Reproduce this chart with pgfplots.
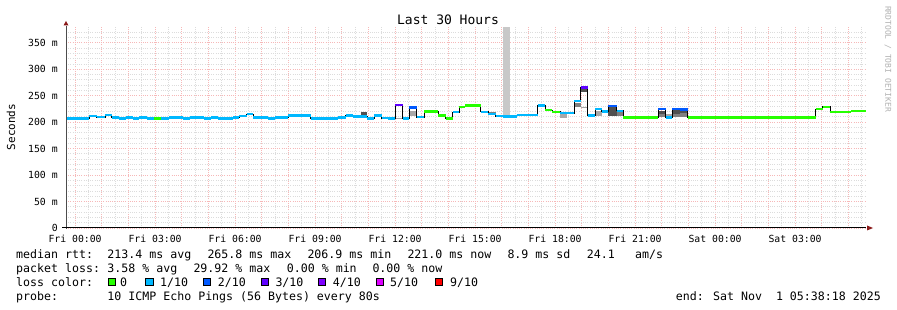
\documentclass[border=0pt]{standalone}
\usepackage{fontspec}
\setmainfont{DejaVu Sans Mono}
\usepackage{pgfplots}
\pgfplotsset{compat=1.18}
\usetikzlibrary{arrows.meta}
\definecolor{l0}{HTML}{26FF00}
\definecolor{l1}{HTML}{00B8FF}
\definecolor{l2}{HTML}{0059FF}
\definecolor{l3}{HTML}{5E00FF}
\definecolor{l4}{HTML}{7E00FF}
\definecolor{l5}{HTML}{DD00FF}
\definecolor{l9}{HTML}{FF0000}
\definecolor{unk}{HTML}{C8C8C8}
\definecolor{smA}{HTML}{505050}
\definecolor{smB}{HTML}{808080}
\definecolor{smC}{HTML}{A8A8A8}
\definecolor{arrowred}{HTML}{8B1A1A}
\definecolor{mgrid}{HTML}{F6B8B8}
\definecolor{ngrid}{HTML}{DCDCDC}
\newcommand{\lfont}{\fontsize{11.6bp}{14bp}\selectfont}
\begin{document}
\begin{tikzpicture}
\path[use as bounding box, fill=white] (0,0) rectangle (897bp,310bp);
\begin{axis}[
  name=ax,
  at={(66bp,82bp)}, anchor=south west,
  scale only axis, width=800bp, height=201bp,
  xmin=-0.34, xmax=29.66, ymin=0, ymax=380,
  axis lines=left, axis line style={draw=none}, tick style={draw=none},
  xtick={0,1,...,29},
  xticklabels={Fri 00:00,,,Fri 03:00,,,Fri 06:00,,,Fri 09:00,,,Fri 12:00,,,Fri 15:00,,,Fri 18:00,,,Fri 21:00,,,Sat 00:00,,,Sat 03:00,,},
  minor xtick={0.5,1.5,...,29.5},
  ytick={0,50,...,350},
  yticklabels={0,50 m,100 m,150 m,200 m,250 m,300 m,350 m},
  minor ytick={10,20,30,40,60,70,80,90,110,120,130,140,160,170,180,190,210,220,230,240,260,270,280,290,310,320,330,340,360,370},
  grid=both,
  major grid style={draw=mgrid, line width=0.9bp, dash pattern=on 1bp off 1.2bp},
  minor grid style={draw=ngrid, line width=0.9bp, dash pattern=on 1bp off 1.2bp},
  tick label style={font=\fontsize{9.8bp}{11bp}\selectfont, inner sep=0pt},
  xticklabel shift=5bp, yticklabel shift=6bp,
  unbounded coords=jump,
]
% unknown data
\addplot[fill=unk, draw=none] coordinates {(16.04,211)(16.31,211)(16.31,380)(16.04,380)} --cycle;
% smoke
\addplot[fill=smA, draw=none] coordinates {(10.7125,212)(10.9625,212)(10.9625,219.5)(10.7125,219.5)} --cycle;
\addplot[fill=smC, draw=none] coordinates {(12.0,206.2)(12.2875,206.2)(12.2875,208)(12.0,208)} --cycle;
\addplot[fill=smC, draw=none] coordinates {(12.5375,212.5)(12.8125,212.5)(12.8125,221)(12.5375,221)} --cycle;
\addplot[fill=smB, draw=none] coordinates {(15.5,216)(15.775,216)(15.775,219.5)(15.5,219.5)} --cycle;
\addplot[fill=smC, draw=none] coordinates {(18.19,208.7)(18.44,208.7)(18.44,215.7)(18.19,215.7)} --cycle;
\addplot[fill=smB, draw=none] coordinates {(18.71,228)(18.96,228)(18.96,237)(18.71,237)} --cycle;
\addplot[fill=smA, draw=none] coordinates {(18.96,257)(19.225,257)(19.225,264)(18.96,264)} --cycle;
\addplot[fill=smC, draw=none] coordinates {(18.96,227.5)(19.225,227.5)(19.225,229)(18.96,229)} --cycle;
\addplot[fill=smC, draw=none] coordinates {(19.5,212.5)(19.75,212.5)(19.75,222)(19.5,222)} --cycle;
\addplot[fill=smA, draw=none] coordinates {(20.0,211)(20.31,211)(20.31,229)(20.0,229)} --cycle;
\addplot[fill=smB, draw=none] coordinates {(20.31,211)(20.56,211)(20.56,219)(20.31,219)} --cycle;
\addplot[fill=smB, draw=none] coordinates {(21.875,209)(22.15,209)(22.15,215)(21.875,215)} --cycle;
\addplot[fill=smA, draw=none] coordinates {(21.875,215)(22.15,215)(22.15,222)(21.875,222)} --cycle;
\addplot[fill=smC, draw=none] coordinates {(22.15,210)(22.4,210)(22.4,215)(22.15,215)} --cycle;
\addplot[fill=smB, draw=none] coordinates {(22.4,209)(22.69,209)(22.69,216)(22.4,216)} --cycle;
\addplot[fill=smA, draw=none] coordinates {(22.4,216)(22.69,216)(22.69,223)(22.4,223)} --cycle;
\addplot[fill=smB, draw=none] coordinates {(22.69,209)(22.975,209)(22.975,217)(22.69,217)} --cycle;
\addplot[fill=smA, draw=none] coordinates {(22.69,217)(22.975,217)(22.975,222.5)(22.69,222.5)} --cycle;
% median line (black)
\addplot[const plot, black, line width=1bp] coordinates {
(-0.34,206.8)(0.5375,211.3)(0.8125,209.4)(1.125,213.8)(1.375,208.7)(1.65,206.8)(1.9,208.7)(2.1625,206.8)(2.4125,208.7)(2.6875,206.8)(3.525,208.7)(4.0375,206.8)(4.3125,208.7)(4.8375,206.8)(5.0875,208.7)(5.3625,206.8)(5.9375,208.7)(6.1625,211.9)(6.4375,215)(6.6875,208.7)(7.25,206.8)(7.5,208.7)(8.0,212.5)(8.8375,206.8)(9.875,208.7)(10.15,212.5)(10.4375,210.6)(10.9625,206.8)(11.225,212.5)(11.5,207.7)(11.75,206.8)(12.0,232.7)(12.2875,206.8)(12.5375,227.6)(12.8125,209.4)(13.1,220)(13.625,212.5)(13.9,207.2)(14.1625,218.8)(14.4125,228.9)(14.625,231.4)(15.21,219.5)(15.5,215)(15.775,211.3)(16.04,210.6)(16.56,213.2)(17.1,213.8)(17.35,231.4)(17.625,222.6)(17.9,219.5)(18.19,217)(18.71,240.3)(18.96,265.8)(19.225,212.5)(19.5,224.5)(19.75,220)(20.0,230.8)(20.31,221.3)(20.56,208.7)(21.875,224.5)(22.15,208.7)(22.4,225.1)(22.69,224)(22.975,208.7)(27.775,224.5)(28.04,228.9)(28.31,218.8)(29.09,221.0)(29.66,221.0)};
% loss 1/10 (cyan)
\addplot[l1, line width=2.3bp] coordinates {
(-0.34,206.8)(0.5375,206.8)(0.5375,nan)
(0.5375,211.3)(0.8125,211.3)(0.8125,nan)
(0.8125,209.4)(1.125,209.4)(1.125,nan)
(1.125,213.8)(1.375,213.8)(1.375,nan)
(1.375,208.7)(1.65,208.7)(1.65,nan)
(1.65,206.8)(1.9,206.8)(1.9,nan)
(1.9,208.7)(2.1625,208.7)(2.1625,nan)
(2.1625,206.8)(2.4125,206.8)(2.4125,nan)
(2.4125,208.7)(2.6875,208.7)(2.6875,nan)
(2.6875,206.8)(2.9625,206.8)(2.9625,nan)
(3.225,206.8)(3.525,206.8)(3.525,nan)
(3.525,208.7)(4.0375,208.7)(4.0375,nan)
(4.0375,206.8)(4.3125,206.8)(4.3125,nan)
(4.3125,208.7)(4.8375,208.7)(4.8375,nan)
(4.8375,206.8)(5.0875,206.8)(5.0875,nan)
(5.0875,208.7)(5.3625,208.7)(5.3625,nan)
(5.3625,206.8)(5.9375,206.8)(5.9375,nan)
(5.9375,208.7)(6.1625,208.7)(6.1625,nan)
(6.1625,211.9)(6.4375,211.9)(6.4375,nan)
(6.4375,215)(6.6875,215)(6.6875,nan)
(6.6875,208.7)(7.25,208.7)(7.25,nan)
(7.25,206.8)(7.5,206.8)(7.5,nan)
(7.5,208.7)(8.0,208.7)(8.0,nan)
(8.0,212.5)(8.8375,212.5)(8.8375,nan)
(8.8375,206.8)(9.875,206.8)(9.875,nan)
(9.875,208.7)(10.15,208.7)(10.15,nan)
(10.15,212.5)(10.4375,212.5)(10.4375,nan)
(10.4375,210.6)(10.9625,210.6)(10.9625,nan)
(10.9625,206.8)(11.225,206.8)(11.225,nan)
(11.225,212.5)(11.5,212.5)(11.5,nan)
(11.5,207.7)(11.75,207.7)(11.75,nan)
(11.75,206.8)(12.0,206.8)(12.0,nan)
(12.2875,206.8)(12.5375,206.8)(12.5375,nan)
(12.8125,209.4)(13.1,209.4)(13.1,nan)
(14.1625,218.8)(14.4125,218.8)(14.4125,nan)
(15.21,219.5)(15.5,219.5)(15.5,nan)
(15.5,215)(15.775,215)(15.775,nan)
(15.775,211.3)(16.04,211.3)(16.04,nan)
(16.04,210.6)(16.56,210.6)(16.56,nan)
(16.56,213.2)(17.1,213.2)(17.1,nan)
(17.1,213.8)(17.35,213.8)(17.35,nan)
(17.35,231.4)(17.625,231.4)(17.625,nan)
(18.19,217)(18.71,217)(18.71,nan)
(18.71,240.3)(18.96,240.3)(18.96,nan)
(19.225,212.5)(19.5,212.5)(19.5,nan)
(19.5,224.5)(19.75,224.5)(19.75,nan)
(19.75,220)(20.0,220)(20.0,nan)
(20.31,221.3)(20.56,221.3)(20.56,nan)
(22.15,208.7)(22.4,208.7)(22.4,nan)};
% loss 0 (green)
\addplot[l0, line width=2.3bp] coordinates {
(2.9625,206.8)(3.225,206.8)(3.225,nan)
(13.1,220)(13.625,220)(13.625,nan)
(13.625,212.5)(13.9,212.5)(13.9,nan)
(13.9,207.2)(14.1625,207.2)(14.1625,nan)
(14.4125,228.9)(14.625,228.9)(14.625,nan)
(14.625,231.4)(15.21,231.4)(15.21,nan)
(17.625,222.6)(17.9,222.6)(17.9,nan)
(17.9,219.5)(18.19,219.5)(18.19,nan)
(20.56,208.7)(21.875,208.7)(21.875,nan)
(22.975,208.7)(27.775,208.7)(27.775,nan)
(27.775,224.5)(28.04,224.5)(28.04,nan)
(28.04,228.9)(28.31,228.9)(28.31,nan)
(28.31,218.8)(29.09,218.8)(29.09,nan)
(29.09,221.0)(29.66,221.0)};
% loss 2/10 (blue)
\addplot[l2, line width=2.3bp] coordinates {
(12.5375,227.6)(12.8125,227.6)(12.8125,nan)
(20.0,230.8)(20.31,230.8)(20.31,nan)
(21.875,224.5)(22.15,224.5)(22.15,nan)
(22.4,225.1)(22.69,225.1)(22.69,nan)
(22.69,224)(22.975,224)};
% loss 3/10 (violet)
\addplot[l3, line width=2.3bp] coordinates {
(12.0,232.7)(12.2875,232.7)(12.2875,nan)
(18.96,265.8)(19.225,265.8)};
\end{axis}
% axes lines and arrows
\draw[black!70, line width=1bp] ([yshift=-1bp]ax.south west) -- ([yshift=1bp]ax.north west);
\fill[arrowred] ([yshift=6bp]ax.north west) -- ++(-2.5bp,-4.5bp) -- ++(5bp,0) -- cycle;
\draw[black, line width=1bp] ([xshift=-4bp]ax.south west) -- (ax.south east);
\fill[arrowred] ([xshift=7bp]ax.south east) -- ++(-6bp,2.5bp) -- ++(0,-5bp) -- cycle;
\begin{scope}[x=1bp,y=1bp]
\node[anchor=base, inner sep=0pt, font=\fontsize{13bp}{15bp}\selectfont] at (448,286) {Last 30 Hours};
\node[rotate=90, inner sep=0pt, font=\fontsize{11bp}{13bp}\selectfont] at (11,183) {Seconds};
\node[rotate=-90, inner sep=0pt, text=black!30, font=\fontsize{8bp}{9bp}\selectfont] at (888,251) {RRDTOOL / TOBI OETIKER};
\begin{scope}[every node/.style={anchor=base west, inner sep=0pt, font=\lfont}]
\node at (16,52) {median rtt:};
\node at (107.3,52) {213.4 ms avg};
\node at (207.3,52) {265.8 ms max};
\node at (307.3,52) {206.9 ms min};
\node at (407.3,52) {221.0 ms now};
\node at (507.3,52) {8.9 ms sd};
\node at (586.7,52) {24.1};
\node at (635,52) {am/s};
\node at (16,38) {packet loss:};
\node at (107.3,38) {3.58 \% avg};
\node at (193.3,38) {29.92 \% max};
\node at (286.7,38) {0.00 \% min};
\node at (372.3,38) {0.00 \% now};
\node at (16,24) {loss color:};
\node at (120,24) {0};
\node at (160,24) {1/10};
\node at (217.7,24) {2/10};
\node at (275.3,24) {3/10};
\node at (332.7,24) {4/10};
\node at (390,24) {5/10};
\node at (450,24) {9/10};
\node at (16,10) {probe:};
\node at (107.3,10) {10 ICMP Echo Pings (56 Bytes) every 80s};
\node[anchor=base east] at (881,10) {end: Sat Nov~~1 05:38:18 2025};
\end{scope}
\foreach \xx/\cc in {108.3/l0,145.7/l1,203.3/l2,261/l3,318.3/l4,376/l5,435/l9}{
  \filldraw[fill=\cc, draw=black, line width=0.8bp] (\xx,24.5) rectangle ++(7.4,7.4);
}
\end{scope}
\end{tikzpicture}
\end{document}
